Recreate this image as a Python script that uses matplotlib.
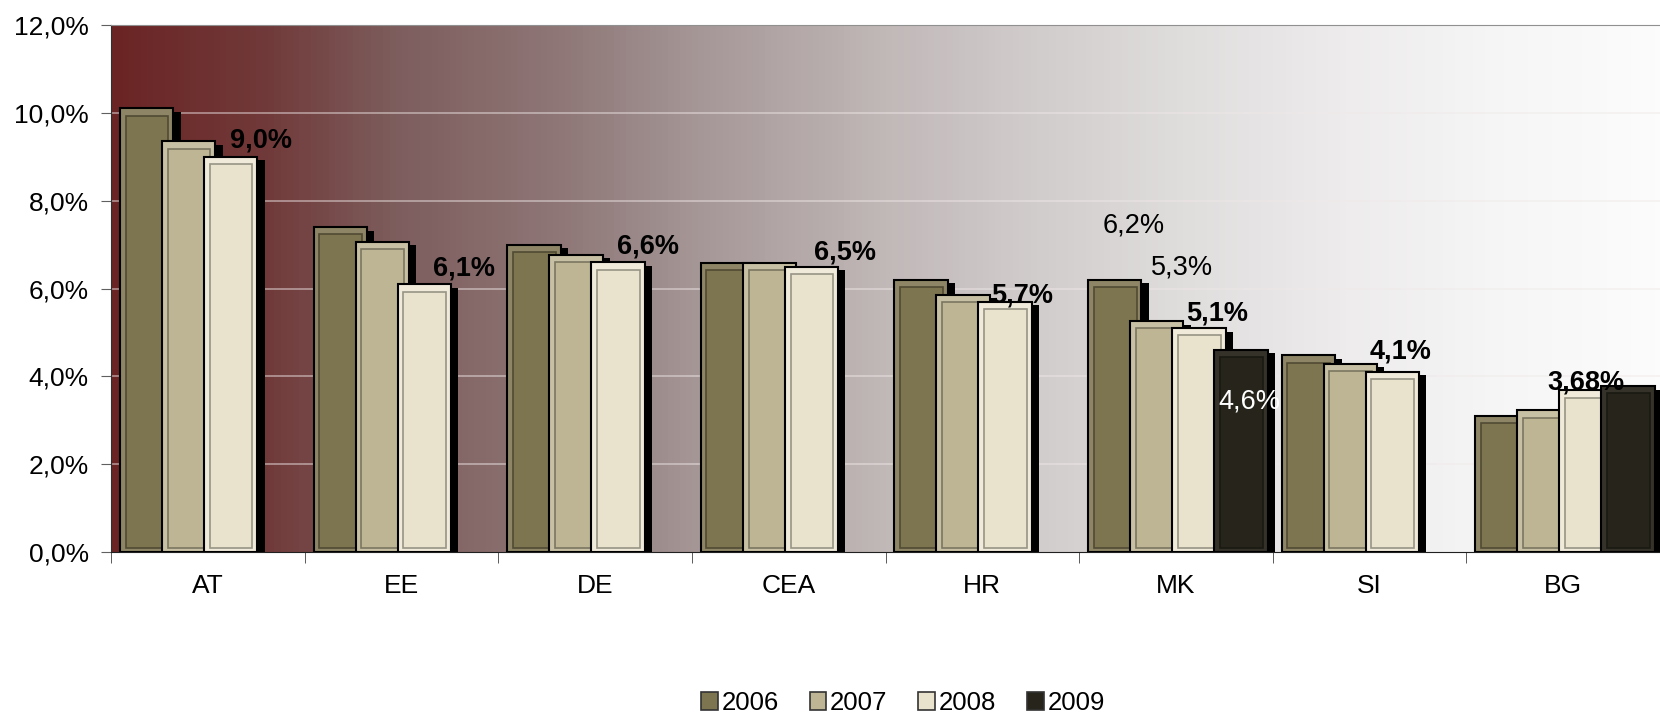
import numpy as np
import matplotlib.pyplot as plt
from matplotlib.patches import Patch
from matplotlib.colors import LinearSegmentedColormap, to_rgb

plt.rcParams['font.family'] = ['Liberation Sans', 'DejaVu Sans']

categories = ['AT', 'EE', 'DE', 'CEA', 'HR', 'MK', 'SI', 'BG']
years = ['2006', '2007', '2008', '2009']
nan = np.nan
v2006 = [10.1, 7.4, 7.0, 6.58, 6.2, 6.2, 4.48, 3.1]
v2007 = [9.35, 7.06, 6.77, 6.58, 5.86, 5.26, 4.29, 3.23]
v2008 = [9.0, 6.1, 6.6, 6.5, 5.7, 5.1, 4.1, 3.68]
v2009 = [nan, nan, nan, nan, nan, 4.6, nan, 3.78]

# data labels shown on the chart: category, year index, decimals
lab_cat = ['AT', 'EE', 'DE', 'CEA', 'HR', 'MK', 'SI', 'BG', 'MK', 'MK', 'MK']
lab_year = [2, 2, 2, 2, 2, 2, 2, 2, 0, 1, 3]
lab_dec = [1, 1, 1, 1, 1, 1, 1, 2, 1, 1, 1]


def pct(v, d=1):
    return f"{v:.{d}f}%".replace('.', ',')


def shade(c, f):
    c = np.array(c)
    if f >= 0:
        return tuple(c + (1 - c) * f)
    return tuple(c * (1 + f))


def main():
    fig = plt.figure(figsize=(16.6, 7.16), dpi=100)
    ax = fig.add_axes([111 / 1660, 1 - 552 / 716, (1660 - 111) / 1660, 527 / 716])

    # background gradient
    stops = [(0.0, (107, 36, 36)), (0.1, (113, 58, 58)), (0.18, (125, 92, 92)),
             (0.3, (145, 122, 122)), (0.376, (165, 150, 150)), (0.5, (193, 184, 184)),
             (0.6, (210, 205, 205)), (0.7, (225, 222, 222)), (0.8, (238, 236, 237)),
             (0.9, (246, 246, 246)), (1.0, (252, 252, 252))]
    cmap = LinearSegmentedColormap.from_list(
        'bg', [(p, tuple(np.array(c) / 255)) for p, c in stops])
    grad = np.linspace(0, 1, 512).reshape(1, -1)
    ax.imshow(grad, cmap=cmap, extent=[-0.5, 7.5, 0, 12], aspect='auto', zorder=0)

    for y in range(2, 12, 2):
        ax.axhline(y, color='#f0e8e8', alpha=0.5, lw=1.3, zorder=1)

    series = [v2006, v2007, v2008, v2009]
    colors = ['#7d7450', '#bdb594', '#e9e3cd', '#27251b']
    frame_light = [0.12, 0.15, 0.25, 0.06]
    offsets = [-0.316, -0.099, 0.118, 0.335]
    w = 0.276
    x = np.arange(len(categories))
    for i, (vals, col) in enumerate(zip(series, colors)):
        vals = np.array(vals, dtype=float)
        xs = x + offsets[i]
        z = 2 + 4 * i
        rgb = np.array(to_rgb(col))
        # drop shadow
        ax.bar(xs + 0.037, np.where(np.isnan(vals), nan, vals - 0.08), width=w,
               color='black', zorder=z)
        # outer bevel
        ax.bar(xs, vals, width=w, color=shade(rgb, frame_light[i]), edgecolor='black',
               linewidth=1.5, zorder=z + 1)
        # inner face
        ax.bar(xs + 0.002, vals - 0.25, bottom=0.08, width=w - 0.055, color=col,
               edgecolor=shade(rgb, -0.35), linewidth=1.2, zorder=z + 2)

    # data labels
    label_pos = {('AT', 2): (0.274, 0.36), ('EE', 2): (0.323, 0.35),
                 ('DE', 2): (0.273, 0.35), ('CEA', 2): (0.29, 0.31),
                 ('HR', 2): (0.204, 0.15), ('MK', 2): (0.215, 0.32),
                 ('SI', 2): (0.16, 0.47), ('BG', 2): (0.115, 0.19),
                 ('MK', 0): (-0.22, 1.24), ('MK', 1): (0.03, 1.21),
                 ('MK', 3): (0.38, -1.18)}
    for cat, yi, d in zip(lab_cat, lab_year, lab_dec):
        ci = categories.index(cat)
        v = series[yi][ci]
        dx, dy = label_pos[(cat, yi)]
        bold = yi == 2
        tcol = 'white' if yi == 3 else 'black'
        ax.text(ci + dx, v + dy, pct(v, d), ha='center', va='center', fontsize=19.5,
                fontweight='bold' if bold else 'normal', color=tcol, zorder=30)

    ax.set_xlim(-0.5, -0.5 + 1549 / 195.8)
    ax.set_ylim(0, 12)
    ax.set_yticks(range(0, 13, 2))
    ax.set_yticklabels([pct(v) for v in range(0, 13, 2)], fontsize=19)
    ax.set_xticks(x)
    ax.set_xticklabels(categories, fontsize=19)
    ax.set_xticks(np.arange(-0.5, 8, 1), minor=True)
    ax.tick_params(axis='x', which='major', length=0, pad=16)
    ax.tick_params(axis='x', which='minor', length=8, color='#404040', direction='out')
    ax.tick_params(axis='y', length=7, color='#606060', pad=9)
    ax.spines['right'].set_visible(False)
    ax.spines['top'].set_color('#909090')
    ax.spines['left'].set_color('#303030')
    ax.spines['bottom'].set_color('#202020')

    handles = [Patch(facecolor=c, edgecolor='#333333', linewidth=1.2) for c in colors]
    fig.legend(handles, years, loc='center', bbox_to_anchor=(903 / 1660, 13 / 716),
               ncol=4, frameon=False, fontsize=18.5, handlelength=0.65, handleheight=0.65,
               handletextpad=0.15, columnspacing=1.2)

    fig.savefig('out.png', dpi=100)


if __name__ == "__main__":
    main()
